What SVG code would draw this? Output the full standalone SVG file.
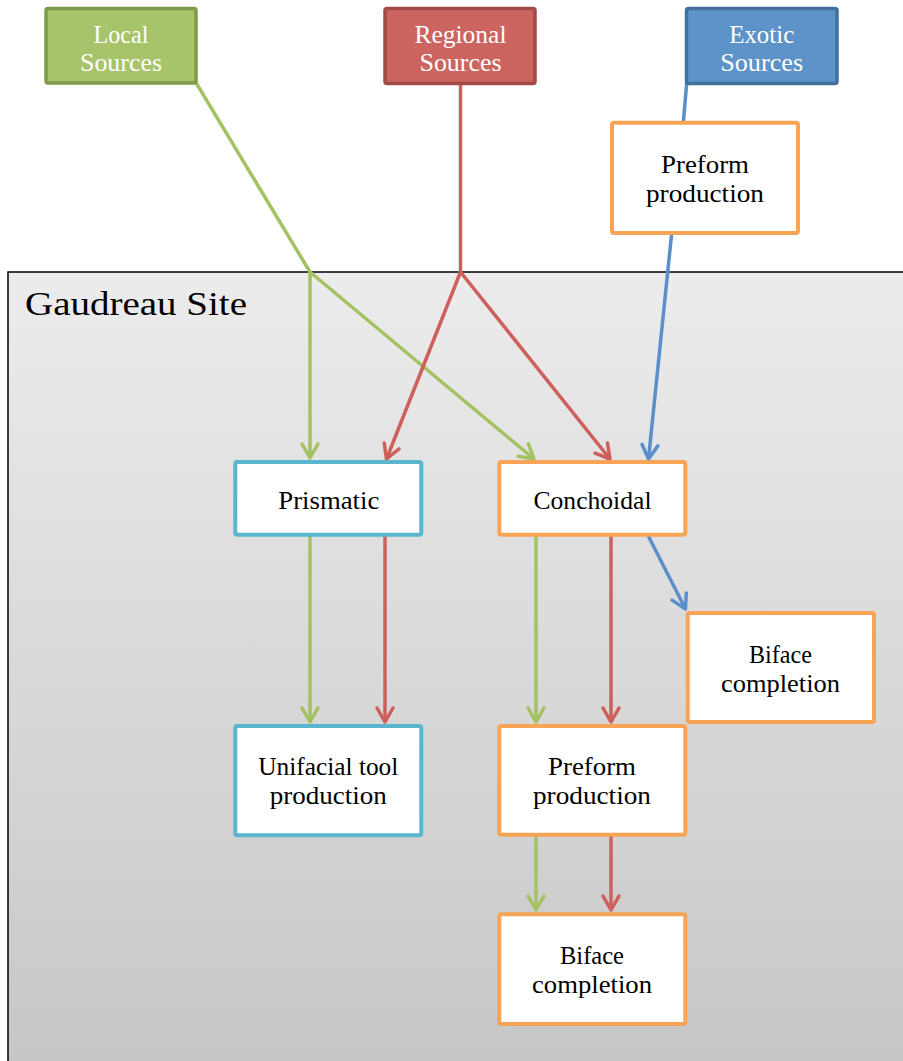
<svg xmlns="http://www.w3.org/2000/svg" width="903" height="1061" viewBox="0 0 903 1061">
<defs>
<linearGradient id="siteGrad" x1="0" y1="272" x2="0" y2="1061" gradientUnits="userSpaceOnUse">
<stop offset="0" stop-color="#ececec"/>
<stop offset="1" stop-color="#c7c7c7"/>
</linearGradient>
<marker id="aG" markerUnits="userSpaceOnUse" markerWidth="30" markerHeight="30" refX="0" refY="0" orient="auto" overflow="visible"><path d="M-14,-8 L0,0 L-14,8" fill="none" stroke="#a5c262" stroke-width="3.5" stroke-linecap="round" stroke-linejoin="round"/></marker>
<marker id="aR" markerUnits="userSpaceOnUse" markerWidth="30" markerHeight="30" refX="0" refY="0" orient="auto" overflow="visible"><path d="M-14,-8 L0,0 L-14,8" fill="none" stroke="#cd605b" stroke-width="3.5" stroke-linecap="round" stroke-linejoin="round"/></marker>
<marker id="aB" markerUnits="userSpaceOnUse" markerWidth="30" markerHeight="30" refX="0" refY="0" orient="auto" overflow="visible"><path d="M-14,-8 L0,0 L-14,8" fill="none" stroke="#5b8fca" stroke-width="3.5" stroke-linecap="round" stroke-linejoin="round"/></marker>
</defs>
<style>
text{font-family:"Liberation Serif","Times New Roman",serif;font-size:25px;text-anchor:middle;fill:#000}
.src text{fill:#ffffff}
.g{stroke:#a5c262}
.r{stroke:#cd605b}
.b{stroke:#5b8fca}
#connectors line{stroke-width:3.5;fill:none}
.orange{fill:#ffffff;stroke:#f8a456;stroke-width:4}
.aqua{fill:#ffffff;stroke:#5bb5cf;stroke-width:4}
</style>
<g id="site">
<rect x="8" y="272" width="910" height="810" fill="url(#siteGrad)" stroke="#000" stroke-width="1.5"/>
<text x="25" y="315" style="font-size:34px;text-anchor:start" textLength="222" lengthAdjust="spacingAndGlyphs">Gaudreau Site</text>
</g>
<g id="connectors">
<line class="g" x1="195" y1="81" x2="310" y2="272"/>
<line class="g" x1="310" y1="272" x2="310" y2="458" marker-end="url(#aG)"/>
<line class="g" x1="310" y1="272" x2="534" y2="459" marker-end="url(#aG)"/>
<line class="r" x1="460.5" y1="84" x2="460.5" y2="272"/>
<line class="r" x1="460.5" y1="272" x2="386.5" y2="459" marker-end="url(#aR)"/>
<line class="r" x1="460.5" y1="272" x2="610" y2="459" marker-end="url(#aR)"/>
<line class="b" x1="686.7" y1="83" x2="683.3" y2="123"/>
<line class="b" x1="671.7" y1="233" x2="648.5" y2="459" marker-end="url(#aB)"/>
<line class="g" x1="310" y1="536" x2="310" y2="722" marker-end="url(#aG)"/>
<line class="r" x1="385" y1="536" x2="385" y2="722" marker-end="url(#aR)"/>
<line class="g" x1="536" y1="536" x2="536" y2="722" marker-end="url(#aG)"/>
<line class="r" x1="611" y1="536" x2="611" y2="722" marker-end="url(#aR)"/>
<line class="b" x1="648.3" y1="536" x2="685.5" y2="609" marker-end="url(#aB)"/>
<line class="g" x1="536" y1="836" x2="536" y2="910" marker-end="url(#aG)"/>
<line class="r" x1="611" y1="836" x2="611" y2="910" marker-end="url(#aR)"/>
</g>
<g id="local" class="src">
<rect x="46" y="8.5" width="150" height="74.5" rx="2" fill="#a8c46a" stroke="#7e9a49" stroke-width="3.5"/>
<text x="121" y="42.5" textLength="55" lengthAdjust="spacingAndGlyphs">Local</text>
<text x="121" y="71" textLength="82" lengthAdjust="spacingAndGlyphs">Sources</text>
</g>
<g id="regional" class="src">
<rect x="385" y="8.5" width="150" height="75" rx="2" fill="#cc645f" stroke="#a24a46" stroke-width="3.5"/>
<text x="460.5" y="42.5" textLength="92" lengthAdjust="spacingAndGlyphs">Regional</text>
<text x="460.5" y="71" textLength="82" lengthAdjust="spacingAndGlyphs">Sources</text>
</g>
<g id="exotic" class="src">
<rect x="686.5" y="8.5" width="150.5" height="75" rx="2" fill="#5d93c8" stroke="#41719c" stroke-width="3.5"/>
<text x="761.7" y="42.5" textLength="65" lengthAdjust="spacingAndGlyphs">Exotic</text>
<text x="761.7" y="71" textLength="83" lengthAdjust="spacingAndGlyphs">Sources</text>
</g>
<g id="preform-exotic">
<rect class="orange" x="612" y="122.7" width="186" height="110.3" rx="2"/>
<text x="705" y="173" textLength="88" lengthAdjust="spacingAndGlyphs">Preform</text>
<text x="705" y="202" textLength="118" lengthAdjust="spacingAndGlyphs">production</text>
</g>
<g id="prismatic">
<rect class="aqua" x="235.3" y="462" width="186" height="72.7" rx="2"/>
<text x="328.8" y="508.5" textLength="101" lengthAdjust="spacingAndGlyphs">Prismatic</text>
</g>
<g id="conchoidal">
<rect class="orange" x="499.3" y="462" width="186" height="72.7" rx="2"/>
<text x="592.5" y="508.5" textLength="118" lengthAdjust="spacingAndGlyphs">Conchoidal</text>
</g>
<g id="biface-exotic">
<rect class="orange" x="687.7" y="613" width="186.3" height="109" rx="2"/>
<text x="780.5" y="663" textLength="63" lengthAdjust="spacingAndGlyphs">Biface</text>
<text x="780.5" y="692" textLength="119" lengthAdjust="spacingAndGlyphs">completion</text>
</g>
<g id="unifacial">
<rect class="aqua" x="235.3" y="726" width="186" height="109.3" rx="2"/>
<text x="328.3" y="775" textLength="140" lengthAdjust="spacingAndGlyphs">Unifacial tool</text>
<text x="328.3" y="804.3" textLength="117" lengthAdjust="spacingAndGlyphs">production</text>
</g>
<g id="preform-site">
<rect class="orange" x="499.3" y="726" width="186" height="108.7" rx="2"/>
<text x="592" y="775" textLength="88" lengthAdjust="spacingAndGlyphs">Preform</text>
<text x="592" y="804" textLength="118" lengthAdjust="spacingAndGlyphs">production</text>
</g>
<g id="biface-site">
<rect class="orange" x="499.3" y="914.3" width="186" height="109.7" rx="2"/>
<text x="592" y="963.5" textLength="64" lengthAdjust="spacingAndGlyphs">Biface</text>
<text x="592" y="992.5" textLength="120" lengthAdjust="spacingAndGlyphs">completion</text>
</g>
</svg>
